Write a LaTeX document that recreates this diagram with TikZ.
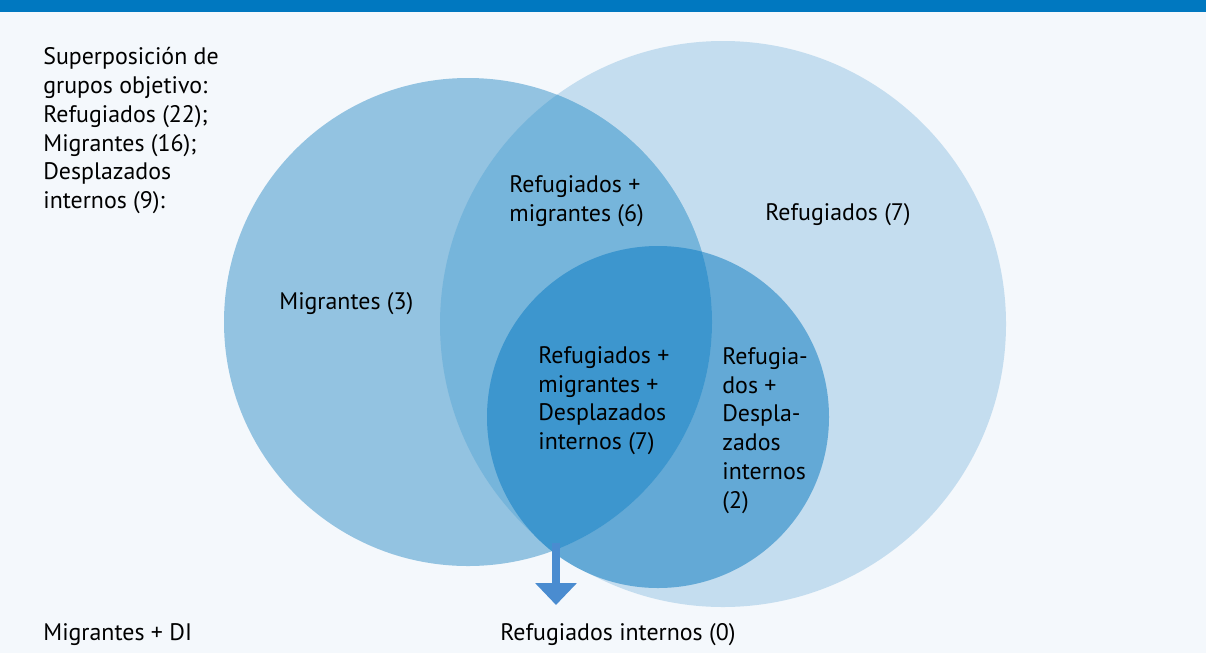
\documentclass[tikz,border=0pt]{standalone}
\usepackage{fontspec}
\setmainfont{PT Sans}
\usetikzlibrary{arrows.meta}
\definecolor{barblue}{RGB}{0,120,192}
\definecolor{bgblue}{RGB}{244,248,252}
\definecolor{refblue}{RGB}{196,221,239}
\definecolor{migblue}{RGB}{147,195,225}
\definecolor{rmblue}{RGB}{118,181,219}
\definecolor{rdblue}{RGB}{99,169,214}
\definecolor{triblue}{RGB}{61,150,206}
\definecolor{arrblue}{RGB}{74,140,208}

\begin{document}
\begin{tikzpicture}[x=0.02cm, y=-0.02cm,
	lbl/.style={font=\fontsize{13.6}{16.4}\selectfont, align=left, inner sep=0, anchor=north west}]

	% Background and top bar
	\fill[bgblue] (0,0) rectangle (1206,653);
	\fill[barblue] (0,0) rectangle (1206,12);

	% Circle centres
	\coordinate (mig) at (468,322);
	\coordinate (ref) at (723,324);
	\coordinate (dis) at (658,417);

	% Circles
	\fill[refblue] (ref) circle[radius=283];
	\fill[migblue] (mig) circle[radius=244];
	\fill[rdblue] (dis) circle[radius=171];

	% Overlaps
	\begin{scope}
		\clip (mig) circle[radius=244];
		\fill[rmblue] (ref) circle[radius=283];
		\fill[triblue] (dis) circle[radius=171];
	\end{scope}

	% Labels
	\node[lbl] (info) at (43,47) {Superposición de\\grupos objetivo:\\Refugiados (22);\\Migrantes (16);\\Desplazados\\internos (9):};
	\node[lbl] (migonly) at (279,292) {Migrantes (3)};
	\node[lbl] (refmig) at (509,175) {Refugiados +\\migrantes (6)};
	\node[lbl] (refonly) at (765,203) {Refugiados (7)};
	\node[lbl] (triple) at (538,346) {Refugiados +\\migrantes +\\Desplazados\\internos (7)};
	\node[lbl] (refdis) at (722,347) {Refugia-\\dos +\\Despla-\\zados\\internos\\(2)};
	\node[lbl] (migdi) at (43,623) {Migrantes + DI};
	\node[lbl] (refint) at (500,623) {Refugiados internos (0)};

	% Arrow
	\coordinate (arrtop) at (556,543);
	\coordinate (arrtip) at (556,605);
	\draw[arrblue, line width=5pt, -{Triangle[width=23pt, length=12.5pt]}] (arrtop) -- (arrtip);

\end{tikzpicture}
\end{document}
